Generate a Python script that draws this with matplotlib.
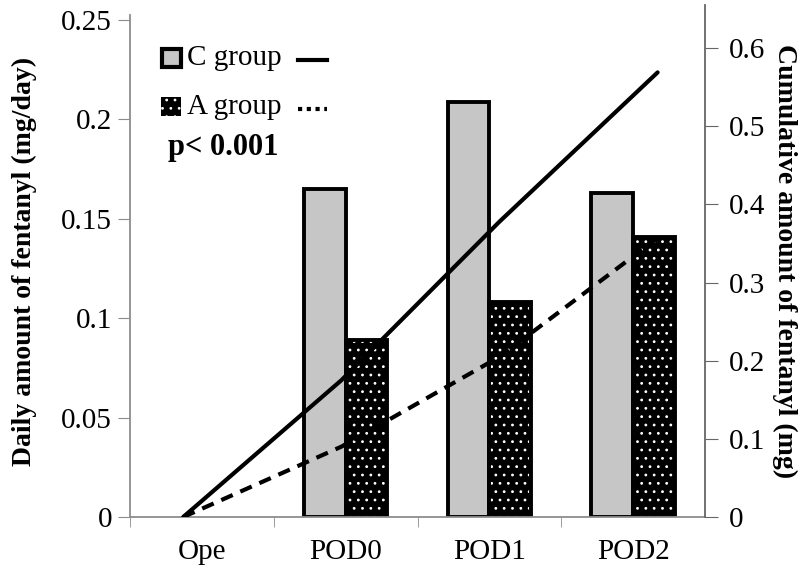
import numpy as np
import matplotlib
matplotlib.use('Agg')
import matplotlib.pyplot as plt
from matplotlib.patches import Rectangle
from matplotlib.lines import Line2D

# data
categories = ['Ope', 'POD0', 'POD1', 'POD2']
bar_days = ['POD0', 'POD1', 'POD2']
daily_c = [0.165, 0.209, 0.163]
daily_a = [0.089, 0.108, 0.141]
cum_c = [0, 0.175, 0.378, 0.569]
cum_a = [0, 0.090, 0.205, 0.357]
left_ticks = [0, 0.05, 0.1, 0.15, 0.2, 0.25]
left_labels = ['0', '0.05', '0.1', '0.15', '0.2', '0.25']
right_ticks = [0, 0.1, 0.2, 0.3, 0.4, 0.5, 0.6]
right_labels = ['0', '0.1', '0.2', '0.3', '0.4', '0.5', '0.6']

plt.rcParams['font.family'] = ['Liberation Serif', 'DejaVu Serif']
plt.rcParams['hatch.linewidth'] = 0.8

fig = plt.figure(figsize=(8, 5.78), dpi=100)
ax = fig.add_axes([0.1625, 0.1055, 0.7188, 0.8855])
ax2 = ax.twinx()

axis_gray = '#8c8c8c'
bw = 0.29
bar_idx = np.array([categories.index(d) for d in bar_days])

# C group bars - light grey with black edge
ax.bar(bar_idx - bw/2, daily_c, width=bw, color='#c6c6c6', edgecolor='black', linewidth=2.8, zorder=2)
# A group bars - black with white dots
ax.bar(bar_idx + bw/2, daily_a, width=bw, color='black', edgecolor='white', hatch='..', linewidth=0, zorder=2)
ax.bar(bar_idx + bw/2, daily_a, width=bw, fill=False, edgecolor='black', linewidth=2.8, zorder=2)

ax.set_xlim(-0.5, 3.5)
ax.set_ylim(0, 0.2575)
ax.set_yticks(left_ticks)
ax.set_yticklabels(left_labels, fontsize=21)
ax.set_xticks(range(len(categories)))
ax.set_xticklabels(categories, fontsize=21)
ax.set_xticks(np.arange(-0.5, 3.0, 1.0), minor=True)
ax.tick_params(axis='x', which='major', length=0, pad=16)
ax.tick_params(axis='x', which='minor', length=7, color=axis_gray, direction='out')
ax.tick_params(axis='y', length=9, color=axis_gray, direction='out', pad=4)
for s in ['top', 'right']:
    ax.spines[s].set_visible(False)
for s in ['left', 'bottom']:
    ax.spines[s].set_color(axis_gray)
    ax.spines[s].set_linewidth(1.3)
ax.spines['left'].set_bounds(0, 0.2525)
ax.set_ylabel('Daily amount of fentanyl (mg/day)', fontsize=20, fontweight='bold', labelpad=17)

# cumulative lines on the secondary axis
line_x = np.arange(len(categories)) * 1.1 - 0.13
ax2.plot(line_x, cum_c, color='black', lw=3, solid_capstyle='round', zorder=3)
ax2.plot(line_x, cum_a, color='black', lw=3, ls=(0, (3, 2)), zorder=3)
ax2.set_ylim(0, 0.655)
ax2.set_yticks(right_ticks)
ax2.set_yticklabels(right_labels, fontsize=21)
ax2.tick_params(axis='y', length=9, color='#666666', direction='out', pad=8)
for s in ['top', 'left', 'bottom']:
    ax2.spines[s].set_visible(False)
ax2.spines['right'].set_color('#666666')
ax2.spines['right'].set_linewidth(1.3)
ax2.set_ylabel('Cumulative amount of fentanyl (mg)', fontsize=20, fontweight='bold', rotation=270,
               va='bottom', labelpad=5)

# hand-made legend
tr = ax.transAxes
ax.add_patch(Rectangle((0.056, 0.880), 0.032, 0.035, transform=tr, facecolor='#c6c6c6', edgecolor='black', lw=3, zorder=5))
ax.add_patch(Rectangle((0.054, 0.783), 0.035, 0.037, transform=tr, facecolor='black', edgecolor='white', hatch='..', lw=0, zorder=5))
ax.text(0.099, 0.897, 'C group', transform=tr, fontsize=21, va='center')
ax.text(0.099, 0.801, 'A group', transform=tr, fontsize=21, va='center')
ax.add_line(Line2D([0.292, 0.342], [0.893, 0.893], transform=tr, color='black', lw=3))
ax.add_line(Line2D([0.292, 0.342], [0.797, 0.797], transform=tr, color='black', lw=3, ls=(0, (1, 1.1))))
ax.text(0.066, 0.721, 'p< 0.001', transform=tr, fontsize=22, fontweight='bold', va='center')

fig.savefig('out.png', dpi=100)
